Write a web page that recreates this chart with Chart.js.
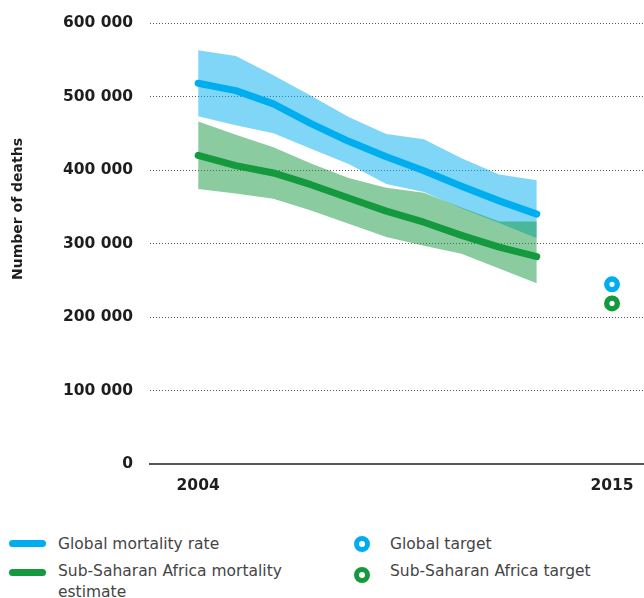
<!DOCTYPE html>
<html>
<head>
<meta charset="utf-8">
<script src="https://cdn.jsdelivr.net/npm/chart.js@4"></script>
<style>
  html, body { margin: 0; padding: 0; background: #ffffff; }
  body { width: 644px; height: 598px; position: relative; overflow: hidden; font-family: "DejaVu Sans", sans-serif; }
  #wrap { position: absolute; left: 0; top: 0; width: 644px; height: 510px; }
  .bar { position: absolute; width: 37px; height: 7px; border-radius: 4px; }
  .ring { position: absolute; width: 16px; height: 16px; border-radius: 50%; border: 5.5px solid; box-sizing: border-box; background: #fff; }
  .txt { position: absolute; font-size: 15.5px; line-height: 21px; color: #454545; white-space: nowrap; }
</style>
</head>
<body>
<div id="wrap"><canvas id="c" width="644" height="510"></canvas></div>

<div class="bar" style="left:9px; top:540px; background:#00AEEF;"></div>
<div class="txt" style="left:58px; top:534px;">Global mortality rate</div>
<div class="bar" style="left:9px; top:569px; background:#15993F;"></div>
<div class="txt" style="left:58px; top:561px;">Sub-Saharan Africa mortality<br>estimate</div>

<div class="ring" style="left:354px; top:536px; border-color:#00AEEF;"></div>
<div class="txt" style="left:390px; top:534px;">Global target</div>
<div class="ring" style="left:354px; top:567px; border-color:#15993F;"></div>
<div class="txt" style="left:390px; top:561px;">Sub-Saharan Africa target</div>

<script>
// ---- data ----
const years = [2004, 2005, 2006, 2007, 2008, 2009, 2010, 2011, 2012, 2013];
const globalDeaths = [518000, 508000, 490000, 463000, 439000, 418000, 399000, 378000, 358000, 340000];
const globalUpper  = [563000, 555000, 529000, 501000, 472000, 449000, 442000, 416000, 394000, 386000];
const globalLower  = [473000, 461000, 450000, 429000, 408000, 381000, 370000, 348000, 328000, 307000];
const ssaDeaths    = [420000, 406000, 396000, 380000, 362000, 344000, 329000, 311000, 295000, 282000];
const ssaUpper     = [466000, 448000, 431000, 409000, 389000, 376000, 369000, 349000, 330000, 330000];
const ssaLower     = [374000, 368000, 361000, 345000, 327000, 309000, 297000, 286000, 266000, 246000];
const targetYear = [2015];
const globalTarget = [244500];
const ssaTarget = [218500];
const xTickYears = [2004, 2015];
const yTickValues = [0, 100000, 200000, 300000, 400000, 500000, 600000];
const yTickLabels = ['0', '100 000', '200 000', '300 000', '400 000', '500 000', '600 000'];
const yTitle = 'Number of deaths';

const pts = (xs, ys) => xs.map((x, i) => ({ x: x, y: ys[i] }));

const BLUE = '#00AEEF';
const GREEN = '#15993F';

Chart.defaults.font.family = '"DejaVu Sans", sans-serif';

const yTitlePlugin = {
  id: 'yTitle',
  afterDraw(chart) {
    const ctx = chart.ctx;
    ctx.save();
    ctx.translate(18, 209);
    ctx.rotate(-Math.PI / 2);
    ctx.font = 'bold 14px "DejaVu Sans", sans-serif';
    ctx.fillStyle = '#1e1e1e';
    ctx.textAlign = 'center';
    ctx.textBaseline = 'middle';
    ctx.fillText(yTitle, 0, 0);
    ctx.restore();
  }
};

const lineBase = { pointRadius: 0, pointHoverRadius: 0, tension: 0, fill: false, borderCapStyle: 'round', borderJoinStyle: 'round' };
const bandBase = { pointRadius: 0, pointHoverRadius: 0, tension: 0, borderWidth: 0 };

new Chart(document.getElementById('c'), {
  type: 'line',
  data: {
    datasets: [
      Object.assign({ label: 'Global mortality rate', data: pts(years, globalDeaths), borderColor: BLUE, borderWidth: 7 }, lineBase),
      Object.assign({ label: 'Sub-Saharan Africa mortality estimate', data: pts(years, ssaDeaths), borderColor: GREEN, borderWidth: 7 }, lineBase),
      { label: 'Global target', data: pts(targetYear, globalTarget), showLine: false, pointRadius: 5.3, pointBorderWidth: 5.4, pointBackgroundColor: '#ffffff', pointBorderColor: BLUE, pointHoverRadius: 5.3 },
      { label: 'Sub-Saharan Africa target', data: pts(targetYear, ssaTarget), showLine: false, pointRadius: 5.3, pointBorderWidth: 5.4, pointBackgroundColor: '#ffffff', pointBorderColor: GREEN, pointHoverRadius: 5.3 },
      Object.assign({ label: 'ssaUpper', data: pts(years, ssaUpper), fill: '+1', backgroundColor: 'rgba(21,153,63,0.5)', borderColor: 'rgba(0,0,0,0)' }, bandBase),
      Object.assign({ label: 'ssaLower', data: pts(years, ssaLower), fill: false, borderColor: 'rgba(0,0,0,0)' }, bandBase),
      Object.assign({ label: 'globalUpper', data: pts(years, globalUpper), fill: '+1', backgroundColor: 'rgba(0,174,239,0.5)', borderColor: 'rgba(0,0,0,0)' }, bandBase),
      Object.assign({ label: 'globalLower', data: pts(years, globalLower), fill: false, borderColor: 'rgba(0,0,0,0)' }, bandBase)
    ]
  },
  options: {
    responsive: false,
    animation: false,
    events: [],
    layout: { autoPadding: false, padding: { top: 23, right: 0, bottom: 0, left: 0 } },
    plugins: { legend: { display: false }, tooltip: { enabled: false } },
    scales: {
      x: {
        type: 'linear',
        min: 2002.72,
        max: 2015.85,
        afterBuildTicks: (s) => { s.ticks = xTickYears.map(v => ({ value: v })); },
        afterFit: (s) => { s.height = 46; s.paddingLeft = 0; s.paddingRight = 0; },
        grid: { display: false, drawTicks: false },
        border: { display: true, color: '#555555', width: 2 },
        ticks: {
          padding: 13,
          color: '#1e1e1e',
          font: { size: 15.5, weight: 'bold' },
          maxRotation: 0,
          autoSkip: false,
          callback: (v) => String(v)
        }
      },
      y: {
        min: 0,
        max: 600000,
        afterBuildTicks: (s) => { s.ticks = yTickValues.map(v => ({ value: v })); },
        afterFit: (s) => { s.width = 150; s.paddingTop = 0; s.paddingBottom = 0; },
        grid: {
          drawTicks: false,
          lineWidth: 1,
          color: (ctx) => (ctx.tick && ctx.tick.value === 0) ? 'rgba(0,0,0,0)' : '#5a5a5a'
        },
        border: { display: false, dash: [1, 2] },
        ticks: {
          padding: 17,
          color: '#1e1e1e',
          font: { size: 15.5, weight: 'bold' },
          callback: (v) => yTickLabels[yTickValues.indexOf(v)]
        }
      }
    }
  },
  plugins: [yTitlePlugin]
});
</script>
</body>
</html>
